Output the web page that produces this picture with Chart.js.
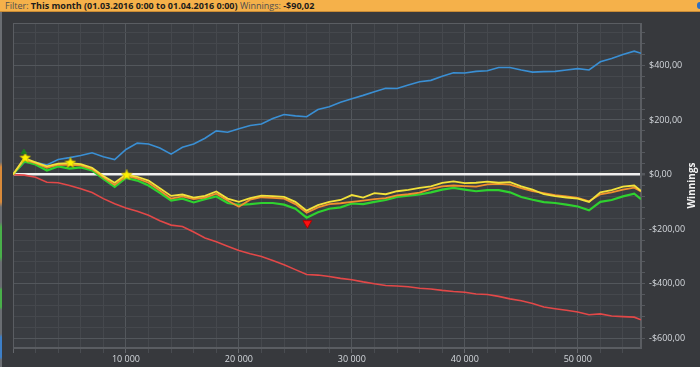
<!DOCTYPE html>
<html>
<head>
<meta charset="utf-8">
<script src="https://cdn.jsdelivr.net/npm/chart.js@4.4.1/dist/chart.umd.min.js"></script>
<style>
  html, body { margin: 0; padding: 0; width: 700px; height: 367px; overflow: hidden; background: #37393d; }
  #bar {
    position: absolute; left: 0; top: 0; width: 700px; height: 12px; box-sizing: border-box;
    background: #f5b14a; border-bottom: 1px solid #c98b35;
    font: 9px "Open Sans", sans-serif; line-height: 11px; color: #4e4e4e;
    padding-left: 5px; white-space: nowrap;
  }
  #bar b { color: #1c1c1c; }
  #dot { position: absolute; right: -3px; top: 2px; width: 6px; height: 7px; border-radius: 3px; background: #2f6fc0; }
  #strip {
    position: absolute; left: 0; top: 12px; width: 2px; height: 355px;
    background: linear-gradient(#6a6d72 0, #6a6d72 150px, #d98a3a 155px, #d98a3a 190px, #6a6d72 195px,
      #6a6d72 210px, #49b04a 215px, #49b04a 245px, #6a6d72 250px, #6a6d72 275px, #49b04a 278px,
      #49b04a 295px, #6a6d72 298px, #6a6d72 322px, #3d7fc8 325px, #3d7fc8 345px, #6a6d72 348px);
  }
  #wrap { position: absolute; left: 0; top: 12px; width: 700px; height: 355px; }
</style>
</head>
<body>
<div id="bar">Filter: <b>This month (01.03.2016 0:00 to 01.04.2016 0:00)</b> Winnings: <b>-$90,02</b><div id="dot"></div></div>
<div id="strip"></div>
<div id="wrap"><canvas id="winningsChart" width="700" height="355"></canvas></div>
<script>
// hands played (x axis)
const hands = [0, 1000, 2000, 3000, 4000, 5000, 6000, 7000, 8000, 9000,
  10000, 11000, 12000, 13000, 14000, 15000, 16000, 17000, 18000, 19000,
  20000, 21000, 22000, 23000, 24000, 25000, 26000, 27000, 28000, 29000,
  30000, 31000, 32000, 33000, 34000, 35000, 36000, 37000, 38000, 39000,
  40000, 41000, 42000, 43000, 44000, 45000, 46000, 47000, 48000, 49000,
  50000, 51000, 52000, 53000, 54000, 55000, 55600];

const blueLine = [0, 45, 45, 35, 55, 62, 70, 80, 65, 55,
  92, 115, 112, 97, 75, 100, 112, 133, 160, 155,
  168, 180, 185, 205, 220, 215, 212, 238, 248, 265,
  278, 290, 303, 316, 315, 328, 340, 345, 360, 373,
  372, 378, 380, 392, 392, 383, 375, 377, 378, 383,
  388, 383, 413, 425, 440, 452, 444];

const redLine = [0, -2, -10, -28, -30, -40, -52, -66, -88, -107,
  -122, -134, -149, -169, -185, -190, -210, -232, -246, -262,
  -278, -290, -300, -315, -330, -348, -366, -368, -373, -380,
  -385, -393, -400, -406, -408, -411, -416, -419, -424, -428,
  -431, -437, -439, -446, -455, -462, -472, -485, -491, -497,
  -503, -513, -510, -518, -520, -522, -532];

const yellowLine = [0, 60, 45, 30, 40, 42, 38, 25, -5, -30,
  0, -8, -22, -50, -78, -73, -84, -78, -62, -88,
  -100, -86, -77, -79, -82, -100, -132, -112, -100, -93,
  -75, -84, -68, -72, -61, -56, -49, -43, -30, -25,
  -31, -30, -26, -30, -28, -43, -55, -72, -79, -84,
  -88, -100, -65, -57, -44, -40, -60];

const orangeLine = [0, 55, 42, 25, 36, 36, 34, 20, -10, -38,
  -5, -14, -30, -58, -88, -80, -90, -84, -70, -95,
  -118, -92, -83, -85, -88, -108, -140, -120, -108, -105,
  -100, -95, -90, -86, -76, -72, -66, -52, -43, -40,
  -42, -44, -36, -34, -37, -50, -61, -68, -75, -80,
  -85, -98, -72, -65, -55, -48, -62];

const greenLine = [0, 48, 37, 15, 30, 22, 26, 15, -16, -45,
  -12, -22, -40, -67, -95, -88, -102, -90, -80, -104,
  -111, -108, -104, -104, -110, -125, -158, -138, -125, -120,
  -106, -108, -100, -93, -82, -77, -73, -65, -55, -49,
  -55, -61, -57, -57, -65, -82, -92, -101, -104, -110,
  -117, -131, -100, -93, -80, -70, -90];

// markers
const starHands = [1080, 5080, 10060];
const starValues = [61, 43, -2];
const peakHands = [970];
const peakValues = [82];
const dropHands = [26060];
const dropValues = [-178];

const handsMax = 55600;
const handsStep = 2000, handsLabelStep = 10000;
const moneyMin = -635, moneyMax = 555;
const moneyStep = 40, moneyLabelStep = 200;

function pts(xs, ys) {
  return xs.map((x, i) => ({ x: x, y: ys[i] }));
}

function starImage(size, fill, stroke) {
  const c = document.createElement('canvas');
  c.width = c.height = size;
  const g = c.getContext('2d');
  const cx = size / 2, R = size / 2 - 0.5, r = R * 0.45;
  g.beginPath();
  for (let i = 0; i < 10; i++) {
    const a = -Math.PI / 2 + i * Math.PI / 5;
    const rad = i % 2 ? r : R;
    g.lineTo(cx + rad * Math.cos(a), cx + rad * Math.sin(a));
  }
  g.closePath();
  g.fillStyle = fill;
  g.fill();
  g.strokeStyle = stroke;
  g.lineWidth = 0.8;
  g.stroke();
  return c;
}

const money = v => (v < 0 ? '-' : '') + '$' + Math.abs(v) + ',00';
const handsFmt = v => (v / 1000) + ' 000';

const tickFont = { family: "'Open Sans', sans-serif", size: 9 };
const minorGrid = '#45484d', majorGrid = '#53575c';

const lineSet = (label, data, color, width) => ({
  label: label,
  data: pts(hands, data),
  borderColor: color,
  borderWidth: width,
  pointRadius: 0,
  tension: 0,
  fill: false
});

const chartBg = {
  id: 'chartBg',
  beforeDraw(chart) {
    const { ctx, chartArea: a } = chart;
    ctx.save();
    ctx.fillStyle = '#3a3d42';
    ctx.fillRect(a.left, a.top, a.right - a.left, a.bottom - a.top);
    ctx.restore();
  },
  beforeDatasetsDraw(chart) {
    const { ctx, chartArea: a } = chart;
    ctx.save();
    ctx.strokeStyle = '#5a5d62';
    ctx.lineWidth = 1;
    ctx.strokeRect(a.left + 0.5, a.top + 0.5, a.right - a.left - 1, a.bottom - a.top - 1);
    ctx.restore();
  },
  afterDraw(chart) {
    const { ctx, chartArea: a } = chart;
    ctx.save();
    ctx.translate(692, (a.top + a.bottom) / 2);
    ctx.rotate(-Math.PI / 2);
    ctx.font = "bold 10px 'Open Sans', sans-serif";
    ctx.fillStyle = '#f2f2f2';
    ctx.textAlign = 'center';
    ctx.textBaseline = 'middle';
    ctx.fillText('Winnings', 0, 0);
    ctx.restore();
  }
};

const ctxWinnings = document.getElementById('winningsChart').getContext('2d');
new Chart(ctxWinnings, {
  type: 'line',
  data: {
    datasets: [
      { label: 'peak', data: pts(peakHands, peakValues), showLine: false, pointStyle: 'triangle',
        pointRadius: 3, backgroundColor: '#1f7d22', borderColor: '#1f7d22' },
      { label: 'stars', data: pts(starHands, starValues), showLine: false,
        pointStyle: starImage(12, '#fff200', '#c8b800') },
      { label: 'drawdown', data: pts(dropHands, dropValues), showLine: false, pointStyle: 'triangle',
        rotation: 180, pointRadius: 5, backgroundColor: '#ff1010', borderColor: '#b00000', borderWidth: 1 },
      lineSet('yellow', yellowLine, '#f2e23a', 1.8),
      lineSet('orange', orangeLine, '#f0902e', 1.8),
      lineSet('green', greenLine, '#2fd22f', 2.2),
      lineSet('blue', blueLine, '#3a8fd4', 1.6),
      lineSet('red', redLine, '#e24848', 1.6)
    ]
  },
  options: {
    responsive: false,
    devicePixelRatio: 1,
    animation: false,
    layout: { padding: { left: 13, top: 11, right: 0, bottom: 0 } },
    plugins: { legend: { display: false }, tooltip: { enabled: false } },
    scales: {
      x: {
        type: 'linear',
        min: 0,
        max: handsMax,
        afterBuildTicks: s => {
          const t = [];
          for (let v = 0; v <= s.max; v += handsStep) t.push({ value: v });
          s.ticks = t;
        },
        ticks: {
          autoSkip: false,
          maxRotation: 0,
          padding: 1,
          color: '#d4d8dd',
          font: tickFont,
          callback: v => (v > 0 && v % handsLabelStep === 0) ? handsFmt(v) : ''
        },
        grid: {
          color: c => (c.tick && c.tick.value % handsLabelStep === 0) ? majorGrid : minorGrid,
          tickLength: 5,
          tickColor: c => (c.tick && c.tick.value % handsLabelStep === 0) ? '#64676c' : '#494c51'
        },
        border: { color: '#5a5d62' },
        afterFit: s => { s.height = 19; }
      },
      y: {
        position: 'right',
        min: moneyMin,
        max: moneyMax,
        ticks: {
          stepSize: moneyStep,
          includeBounds: false,
          autoSkip: false,
          padding: 4,
          color: '#d4d8dd',
          font: tickFont,
          callback: v => (v % moneyLabelStep === 0) ? money(v) : ''
        },
        grid: {
          color: c => {
            if (!c.tick) return minorGrid;
            if (c.tick.value === 0) return '#f0f0f0';
            return c.tick.value % moneyLabelStep === 0 ? majorGrid : minorGrid;
          },
          lineWidth: c => (c.tick && c.tick.value === 0) ? 2.5 : 1,
          tickLength: 4,
          tickColor: '#55585d'
        },
        border: { color: '#5a5d62' },
        afterFit: s => { s.width = 59; }
      }
    }
  },
  plugins: [chartBg]
});
</script>
</body>
</html>
